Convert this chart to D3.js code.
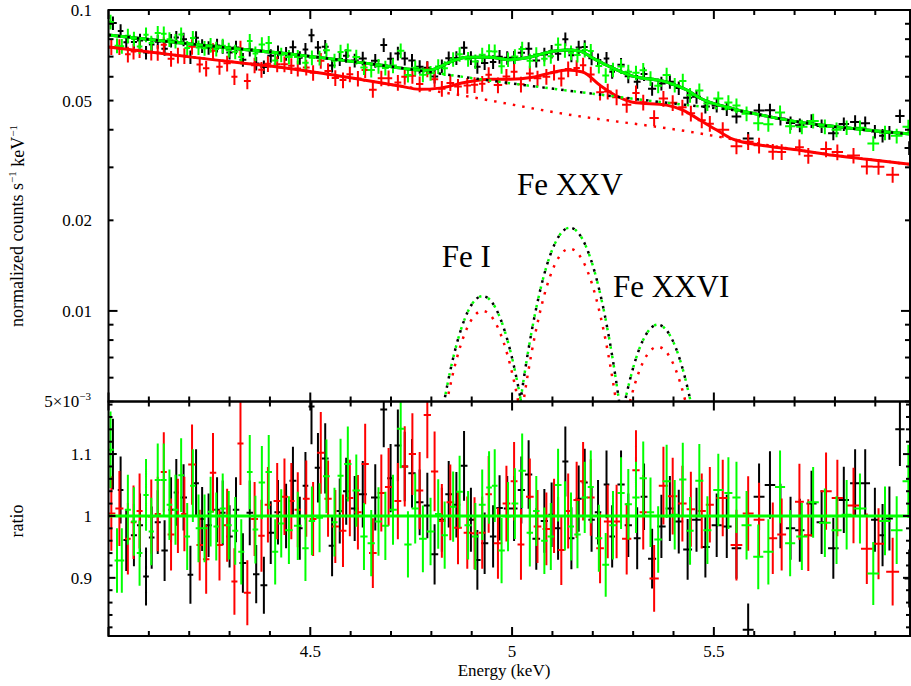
<!DOCTYPE html>
<html lang="en">
<head>
<meta charset="UTF-8">
<title>Fe K lines - counts spectrum and ratio</title>
<script src="https://cdn.jsdelivr.net/npm/d3@7"></script>
<style>
body { margin: 0; background: #fff; }
svg { display: block; font-family: "Liberation Serif", "DejaVu Serif", serif; }
</style>
</head>
<body>
<svg id="chart" width="911" height="686"></svg>
<script>
// ---- values ----
// bin centres (keV) and data/model ratio, one pair of arrays per data set
const BLACK_E = [4.011, 4.030, 4.044, 4.063, 4.078, 4.093, 4.107, 4.122, 4.139, 4.155,
    4.168, 4.186, 4.203, 4.217, 4.232, 4.248, 4.269, 4.283, 4.300, 4.316,
    4.333, 4.350, 4.366, 4.385, 4.402, 4.420, 4.440, 4.457, 4.474, 4.488,
    4.503, 4.519, 4.537, 4.554, 4.573, 4.589, 4.610, 4.630, 4.661, 4.682,
    4.699, 4.717, 4.734, 4.752, 4.771, 4.790, 4.808, 4.826, 4.843, 4.862,
    4.881, 4.898, 4.914, 4.932, 4.953, 4.969, 4.988, 5.005, 5.023, 5.041,
    5.060, 5.080, 5.098, 5.114, 5.132, 5.147, 5.165, 5.180, 5.197, 5.213,
    5.234, 5.248, 5.270, 5.288, 5.310, 5.327, 5.347, 5.370, 5.391, 5.413,
    5.435, 5.457, 5.479, 5.507, 5.532, 5.556, 5.585, 5.612, 5.639, 5.665,
    5.690, 5.713, 5.742, 5.767, 5.796, 5.822, 5.850, 5.875, 5.899, 5.918,
    5.935, 5.961, 5.984];
const BLACK_R = [1.100, 1.042, 0.961, 0.969, 0.985, 0.902, 0.965, 0.990, 0.944, 1.010,
    1.038, 1.030, 0.905, 1.053, 0.995, 0.985, 1.010, 1.005, 0.967, 1.010,
    0.924, 1.005, 0.906, 0.888, 0.973, 1.006, 1.000, 1.057, 0.980, 1.049,
    1.177, 1.078, 1.093, 0.952, 1.008, 1.040, 1.012, 1.035, 1.030, 1.172,
    1.061, 1.114, 1.080, 1.069, 1.022, 1.017, 0.938, 0.994, 1.035, 1.018,
    1.081, 0.994, 0.929, 0.956, 0.967, 1.013, 1.012, 1.012, 1.042, 1.067,
    0.963, 0.992, 1.002, 0.980, 1.088, 0.964, 1.028, 1.054, 0.994, 1.006,
    1.051, 0.967, 1.051, 0.985, 0.964, 1.031, 0.931, 0.983, 1.012, 0.991,
    0.946, 0.994, 0.950, 0.985, 0.983, 0.948, 0.816, 1.031, 1.050, 1.000,
    0.980, 0.977, 1.020, 0.990, 0.948, 1.026, 1.053, 1.053, 0.994, 0.969,
    0.996, 1.140, 0.899];

const RED_E = [4.007, 4.027, 4.048, 4.062, 4.077, 4.106, 4.122, 4.137, 4.155, 4.172,
    4.188, 4.207, 4.226, 4.242, 4.259, 4.275, 4.294, 4.312, 4.327, 4.344,
    4.362, 4.379, 4.395, 4.418, 4.436, 4.453, 4.469, 4.490, 4.507, 4.526,
    4.544, 4.562, 4.581, 4.598, 4.618, 4.636, 4.655, 4.676, 4.694, 4.717,
    4.734, 4.753, 4.771, 4.790, 4.808, 4.826, 4.847, 4.866, 4.889, 4.907,
    4.926, 4.942, 4.965, 4.986, 5.005, 5.022, 5.044, 5.063, 5.085, 5.104,
    5.122, 5.139, 5.160, 5.176, 5.195, 5.218, 5.237, 5.259, 5.284, 5.307,
    5.325, 5.352, 5.375, 5.398, 5.422, 5.443, 5.470, 5.490, 5.522, 5.556,
    5.585, 5.612, 5.646, 5.668, 5.712, 5.734, 5.778, 5.806, 5.846, 5.879,
    5.908, 5.943];
const RED_R = [1.004, 1.012, 0.963, 0.990, 1.008, 0.999, 1.003, 1.071, 0.970, 1.000,
    1.003, 1.083, 0.953, 0.930, 1.070, 0.953, 0.985, 0.894, 1.117, 0.876,
    0.995, 0.968, 1.018, 1.024, 1.031, 1.024, 1.010, 1.028, 0.995, 1.102,
    1.028, 0.983, 0.976, 1.029, 1.006, 1.084, 0.940, 1.037, 1.047, 1.024,
    1.080, 1.100, 1.041, 1.163, 1.072, 0.992, 1.022, 0.981, 0.973, 0.972,
    0.973, 1.035, 0.956, 1.020, 1.056, 0.954, 1.031, 0.983, 0.979, 1.000,
    0.945, 1.008, 1.026, 1.056, 1.030, 0.948, 0.991, 0.991, 0.963, 1.074,
    1.006, 0.899, 1.049, 1.032, 1.020, 1.011, 1.008, 1.018, 1.029, 0.953,
    1.004, 0.994, 0.964, 0.970, 1.023, 0.969, 1.040, 1.029, 1.017, 0.947,
    0.955, 0.910];

const GREEN_E = [4.005, 4.021, 4.033, 4.048, 4.063, 4.077, 4.093, 4.106, 4.122, 4.137,
    4.151, 4.166, 4.180, 4.195, 4.209, 4.223, 4.238, 4.253, 4.267, 4.283,
    4.298, 4.314, 4.329, 4.350, 4.364, 4.380, 4.397, 4.413, 4.428, 4.447,
    4.469, 4.488, 4.504, 4.523, 4.540, 4.560, 4.575, 4.593, 4.614, 4.633,
    4.651, 4.669, 4.686, 4.705, 4.724, 4.742, 4.760, 4.779, 4.798, 4.817,
    4.833, 4.854, 4.870, 4.891, 4.909, 4.926, 4.943, 4.957, 4.974, 4.990,
    5.007, 5.025, 5.044, 5.060, 5.080, 5.096, 5.114, 5.131, 5.146, 5.162,
    5.180, 5.195, 5.215, 5.232, 5.250, 5.270, 5.288, 5.307, 5.325, 5.343,
    5.362, 5.383, 5.403, 5.423, 5.441, 5.464, 5.484, 5.511, 5.536, 5.556,
    5.581, 5.610, 5.635, 5.664, 5.689, 5.718, 5.746, 5.775, 5.804, 5.829,
    5.862, 5.895, 5.924, 5.953, 5.982];
const GREEN_R = [1.107, 0.928, 0.928, 1.010, 0.991, 0.940, 1.034, 0.975, 1.058, 1.058,
    1.018, 1.010, 1.066, 0.967, 1.049, 0.980, 0.980, 1.007, 0.983, 1.012,
    0.985, 0.976, 0.942, 1.071, 0.978, 1.054, 1.071, 0.942, 0.988, 0.977,
    0.984, 0.948, 0.992, 0.997, 1.064, 0.990, 1.065, 1.084, 1.041, 0.967,
    0.956, 0.991, 0.984, 1.010, 1.141, 0.954, 1.012, 0.963, 0.975, 1.003,
    0.969, 1.015, 1.039, 0.985, 0.967, 1.018, 1.046, 1.049, 0.944, 0.999,
    1.020, 1.073, 0.973, 1.008, 0.960, 0.967, 1.050, 1.000, 0.983, 0.970,
    1.030, 1.047, 0.964, 0.921, 0.985, 1.037, 1.019, 1.030, 1.061, 1.006,
    0.962, 1.056, 1.002, 1.059, 0.976, 1.057, 0.977, 1.042, 1.037, 1.030,
    0.985, 0.934, 0.942, 1.047, 0.956, 0.967, 1.022, 0.989, 0.977, 1.002,
    1.012, 0.907, 0.992, 0.977, 1.056];

// relative 1-sigma error of each data set
const ERR_BLACK = 0.052;
const ERR_RED = 0.060;
const ERR_GREEN = 0.056;

// folded model (solid line), counts s-1 keV-1; black and green share it
const MODEL_E_BG = [4.000, 4.226, 4.474, 4.672, 4.746, 4.796, 4.846, 4.888, 4.945, 4.994,
    5.044, 5.093, 5.136, 5.168, 5.200, 5.234, 5.299, 5.383, 5.433, 5.465,
    5.547, 5.631, 5.713, 5.795, 5.879, 5.986];
const MODEL_BG = [0.0826, 0.0765, 0.0708, 0.0656, 0.0636, 0.0631, 0.0671, 0.0697, 0.0697, 0.0684,
    0.0697, 0.0725, 0.0736, 0.0730, 0.0692, 0.0656, 0.0603, 0.0576, 0.0542, 0.0510,
    0.0470, 0.0444, 0.0424, 0.0411, 0.0399, 0.0387];
const MODEL_E_RED = [4.000, 4.226, 4.474, 4.722, 4.771, 4.821, 4.888, 4.945, 4.994, 5.051,
    5.093, 5.136, 5.175, 5.217, 5.259, 5.299, 5.383, 5.423, 5.465, 5.507,
    5.547, 5.631, 5.713, 5.795, 5.879, 5.986];
const MODEL_RED = [0.0753, 0.0692, 0.0632, 0.0559, 0.0545, 0.0550, 0.0576, 0.0589, 0.0589, 0.0598,
    0.0617, 0.0632, 0.0622, 0.0563, 0.0518, 0.0494, 0.0483, 0.0465, 0.0431, 0.0399,
    0.0372, 0.0353, 0.0342, 0.0329, 0.0319, 0.0307];

// continuum component (dotted)
const CONT_E_BG = [4.000, 4.226, 4.474, 4.672, 4.746, 4.846, 5.185, 5.434, 5.547, 5.713, 5.986];
const CONT_BG = [0.0826, 0.0765, 0.0708, 0.0656, 0.0636, 0.0608, 0.0530, 0.0483, 0.0465, 0.0424, 0.0387];
const CONT_E_RED = [4.000, 4.226, 4.474, 4.722, 4.846, 5.136, 5.450, 5.547, 5.713, 5.986];
const CONT_RED = [0.0753, 0.0692, 0.0632, 0.0559, 0.0528, 0.0450, 0.0392, 0.0372, 0.0342, 0.0307];

// gaussian line components (dotted), sampled across each line
const FE1_E = [4.777, 4.802, 4.827, 4.852, 4.877, 4.902, 4.927, 4.952, 4.977, 5.002, 5.027, 5.052, 5.077];
const FE1_BG = [0.00152, 0.00279, 0.00460, 0.00679, 0.00897, 0.01060, 0.01120, 0.01060, 0.00897, 0.00679, 0.00460, 0.00279, 0.00152];
const FE1_RED = [0.00135, 0.00249, 0.00411, 0.00607, 0.00801, 0.00946, 0.01000, 0.00946, 0.00801, 0.00607, 0.00411, 0.00249, 0.00135];
const FE25_E = [4.993, 5.018, 5.043, 5.068, 5.093, 5.118, 5.143, 5.168, 5.193, 5.218, 5.243, 5.268, 5.293];
const FE25_BG = [0.00256, 0.00471, 0.00777, 0.01146, 0.01513, 0.01788, 0.01890, 0.01788, 0.01513, 0.01146, 0.00777, 0.00471, 0.00256];
const FE25_RED = [0.00218, 0.00402, 0.00662, 0.00976, 0.01289, 0.01523, 0.01610, 0.01523, 0.01289, 0.00976, 0.00662, 0.00402, 0.00218];
const FE26_E = [5.211, 5.236, 5.261, 5.286, 5.311, 5.336, 5.361, 5.386, 5.411, 5.436, 5.461, 5.486, 5.511];
const FE26_BG = [0.00122, 0.00224, 0.00370, 0.00546, 0.00721, 0.00851, 0.00900, 0.00851, 0.00721, 0.00546, 0.00370, 0.00224, 0.00122];
const FE26_RED = [0.00103, 0.00190, 0.00312, 0.00461, 0.00609, 0.00719, 0.00760, 0.00719, 0.00609, 0.00461, 0.00312, 0.00190, 0.00103];

// line annotations: text, energy and flux of the text baseline start
const LINE_LABELS = ["Fe I", "Fe XXV", "Fe XXVI"];
const LINE_LABEL_E = [4.826, 5.012, 5.250];
const LINE_LABEL_F = [0.01399, 0.02428, 0.01112];

// axis ticks that carry a label
const X_LABEL_TICKS = [4.5, 5, 5.5];
const X_LABEL_TEXT = ["4.5", "5", "5.5"];
const Y_LABEL_TICKS = [0.1, 0.05, 0.02, 0.01];
const Y_LABEL_TEXT = ["0.1", "0.05", "0.02", "0.01"];
const R_LABEL_TICKS = [1.1, 1, 0.9];
const R_LABEL_TEXT = ["1.1", "1", "0.9"];

// ---- layout ----
const LEFT = 108.5;
const RIGHT = 910;
const TOP = 10;
const MID = 401.5;
const BOTTOM = 636;
const FONT = 17;
const BLACK = "#000000";
const RED = "#ff0000";
const GREEN = "#00ff00";

const svg = d3.select("#chart");

const x = d3.scaleLinear().domain([4.0, 5.986]).range([LEFT, RIGHT]);
const yTop = d3.scaleLog().domain([0.005, 0.1]).range([MID, TOP]);
const yRat = d3.scaleLinear().domain([0.806, 1.185]).range([BOTTOM, MID]);

// model value at any energy, log-linear between the read-off knots
function knotModel(es, vs) {
    const s = d3.scaleLinear().domain(es).range(vs.map(Math.log)).clamp(true);
    return e => Math.exp(s(e));
}

function halfWidths(E) {
    return E.map((e, i) => {
        const l = i > 0 ? e - E[i - 1] : E[1] - E[0];
        const r = i < E.length - 1 ? E[i + 1] - e : e - E[i - 1];
        return Math.min(Math.min(l, r) / 2, 0.016);
    });
}

const sets = [
    {color: BLACK, E: BLACK_E, R: BLACK_R, err: ERR_BLACK, model: knotModel(MODEL_E_BG, MODEL_BG)},
    {color: RED, E: RED_E, R: RED_R, err: ERR_RED, model: knotModel(MODEL_E_RED, MODEL_RED)},
    {color: GREEN, E: GREEN_E, R: GREEN_R, err: ERR_GREEN, model: knotModel(MODEL_E_BG, MODEL_BG)}
];

// crosses: bin width horizontally, error vertically
function crossPath(set, yScale, valueOf) {
    const hw = halfWidths(set.E);
    let p = "";
    set.E.forEach((e, i) => {
        const v = valueOf(set, e, set.R[i]);
        const yc = yScale(v);
        const y0 = yScale(v * (1 - set.err));
        const y1 = yScale(v * (1 + set.err));
        p += `M${x(e - hw[i])},${yc}H${x(e + hw[i])}M${x(e)},${y0}V${y1}`;
    });
    return p;
}

const defs = svg.append("defs");
defs.append("clipPath").attr("id", "clip-top")
    .append("rect").attr("x", LEFT).attr("y", TOP)
    .attr("width", RIGHT - LEFT).attr("height", MID - TOP);
defs.append("clipPath").attr("id", "clip-bot")
    .append("rect").attr("x", LEFT).attr("y", MID)
    .attr("width", RIGHT - LEFT).attr("height", BOTTOM - MID);

// ---- top panel ----
const topPanel = svg.append("g").attr("clip-path", "url(#clip-top)");

for (const s of sets) {
    topPanel.append("path")
        .attr("d", crossPath(s, yTop, (set, e, r) => set.model(e) * r))
        .attr("fill", "none")
        .attr("stroke", s.color)
        .attr("stroke-width", 2);
}

const fluxLine = d3.line()
    .x(d => x(d[0]))
    .y(d => yTop(d[1]))
    .curve(d3.curveMonotoneX);

function drawCurve(es, vs, color, width, dash, offset) {
    topPanel.append("path")
        .attr("d", fluxLine(d3.zip(es, vs)))
        .attr("fill", "none")
        .attr("stroke", color)
        .attr("stroke-width", width)
        .attr("stroke-dasharray", dash)
        .attr("stroke-dashoffset", offset);
}

// folded models
drawCurve(MODEL_E_BG, MODEL_BG, BLACK, 3, null, 0);
drawCurve(MODEL_E_RED, MODEL_RED, RED, 3, null, 0);
drawCurve(MODEL_E_BG, MODEL_BG, GREEN, 3, null, 0);

// dotted components, black and green dots interleaved
const DOT = "2.5 7";
const comps = [
    [CONT_E_BG, CONT_BG, CONT_E_RED, CONT_RED],
    [FE1_E, FE1_BG, FE1_E, FE1_RED],
    [FE25_E, FE25_BG, FE25_E, FE25_RED],
    [FE26_E, FE26_BG, FE26_E, FE26_RED]
];
for (const [eBG, vBG, eR, vR] of comps) {
    drawCurve(eR, vR, RED, 2.5, DOT, 0);
    drawCurve(eBG, vBG, BLACK, 2.5, DOT, 0);
    drawCurve(eBG, vBG, GREEN, 2.5, DOT, 6.5);
}

// line names
svg.append("g")
    .selectAll("text")
    .data(LINE_LABELS)
    .join("text")
    .attr("x", (d, i) => x(LINE_LABEL_E[i]))
    .attr("y", (d, i) => yTop(LINE_LABEL_F[i]))
    .attr("font-size", 31)
    .attr("fill", BLACK)
    .text(d => d);

// ---- ratio panel ----
const botPanel = svg.append("g").attr("clip-path", "url(#clip-bot)");
for (const s of sets) {
    botPanel.append("path")
        .attr("d", crossPath(s, yRat, (set, e, r) => r))
        .attr("fill", "none")
        .attr("stroke", s.color)
        .attr("stroke-width", 2);
}
botPanel.append("line")
    .attr("x1", LEFT).attr("x2", RIGHT)
    .attr("y1", yRat(1)).attr("y2", yRat(1))
    .attr("stroke", GREEN)
    .attr("stroke-width", 3);

// ---- frames and ticks ----
const axes = svg.append("g")
    .attr("stroke", BLACK)
    .attr("stroke-width", 2)
    .attr("fill", "none");

axes.append("rect").attr("x", LEFT).attr("y", TOP)
    .attr("width", RIGHT - LEFT).attr("height", MID - TOP);
axes.append("rect").attr("x", LEFT).attr("y", MID)
    .attr("width", RIGHT - LEFT).attr("height", BOTTOM - MID);

function tick(x1, y1, x2, y2) {
    axes.append("line").attr("x1", x1).attr("y1", y1).attr("x2", x2).attr("y2", y2);
}

for (const t of x.ticks(20)) {
    const major = Math.abs(t * 2 - Math.round(t * 2)) < 1e-6;
    const len = major ? 9 : 5;
    const px = x(t);
    tick(px, TOP, px, TOP + len);
    tick(px, MID, px, MID - len);
    tick(px, MID, px, MID + len);
    tick(px, BOTTOM, px, BOTTOM - len);
}

for (const t of yTop.ticks()) {
    const decade = Math.abs(Math.log10(t) - Math.round(Math.log10(t))) < 1e-6;
    const len = decade ? 9 : 5;
    const py = yTop(t);
    tick(LEFT, py, LEFT + len, py);
    tick(RIGHT, py, RIGHT - len, py);
}

for (const t of yRat.ticks(20)) {
    const major = Math.abs(t * 10 - Math.round(t * 10)) < 1e-6;
    const len = major ? 7 : 4;
    const py = yRat(t);
    tick(LEFT, py, LEFT + len, py);
    tick(RIGHT, py, RIGHT - len, py);
}

// ---- tick labels ----
const labels = svg.append("g")
    .attr("font-size", FONT)
    .attr("fill", BLACK);

labels.selectAll(".xl")
    .data(X_LABEL_TICKS)
    .join("text")
    .attr("x", d => x(d))
    .attr("y", 657)
    .attr("text-anchor", "middle")
    .text((d, i) => X_LABEL_TEXT[i]);

labels.selectAll(".yl")
    .data(Y_LABEL_TICKS)
    .join("text")
    .attr("x", 92)
    .attr("y", d => yTop(d))
    .attr("dy", "0.35em")
    .attr("text-anchor", "end")
    .text((d, i) => Y_LABEL_TEXT[i]);

const minLabel = labels.append("text")
    .attr("x", 91)
    .attr("y", yTop(0.005))
    .attr("dy", "0.35em")
    .attr("text-anchor", "end");
minLabel.append("tspan").text("5\u00d710");
minLabel.append("tspan").attr("font-size", 11).attr("dy", "-0.65em").text("\u22123");

labels.selectAll(".rl")
    .data(R_LABEL_TICKS)
    .join("text")
    .attr("x", 92)
    .attr("y", d => yRat(d))
    .attr("dy", "0.35em")
    .attr("text-anchor", "end")
    .text((d, i) => R_LABEL_TEXT[i]);

// ---- axis titles ----
labels.append("text")
    .attr("x", 504)
    .attr("y", 676)
    .attr("text-anchor", "middle")
    .text("Energy (keV)");

const yTitle = labels.append("text")
    .attr("transform", "translate(23,226) rotate(-90)")
    .attr("text-anchor", "middle")
    .attr("font-size", 18);
yTitle.append("tspan").text("normalized counts s");
yTitle.append("tspan").attr("font-size", 11).attr("dy", "-0.6em").text("\u22121");
yTitle.append("tspan").attr("dy", "0.4em").text(" keV");
yTitle.append("tspan").attr("font-size", 11).attr("dy", "-0.6em").text("\u22121");

labels.append("text")
    .attr("transform", "translate(23,521) rotate(-90)")
    .attr("text-anchor", "middle")
    .attr("font-size", 18)
    .text("ratio");
</script>
</body>
</html>
